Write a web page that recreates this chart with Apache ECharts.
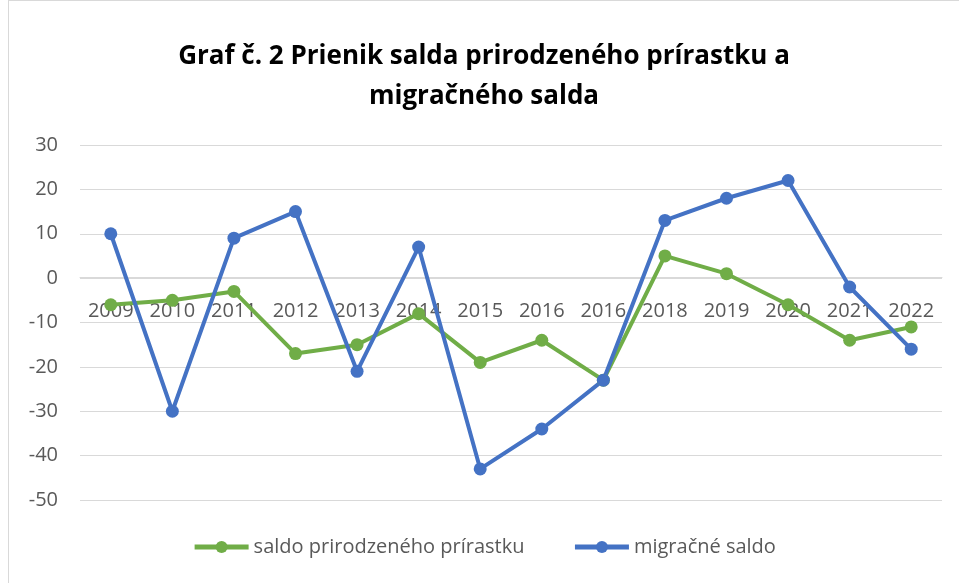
<!DOCTYPE html>
<html>
<head>
<meta charset="utf-8">
<script src="https://cdn.jsdelivr.net/npm/echarts@6/dist/echarts.min.js"></script>
<style>
  html, body { margin: 0; padding: 0; background: #fff; }
  #chart { position: absolute; left: 8px; top: 0; width: 951px; height: 583px;
           border-left: 1px solid #d9d9d9; border-top: 1px solid #d9d9d9; box-sizing: border-box; }
</style>
</head>
<body>
<div id="chart"></div>
<script>
const years = ["2009", "2010", "2011", "2012", "2013", "2014", "2015", "2016", "2016", "2018", "2019", "2020", "2021", "2022"];
const prirodzenyPrirastok = [-6, -5, -3, -17, -15, -8, -19, -14, -23, 5, 1, -6, -14, -11];
const migracneSaldo = [10, -30, 9, 15, -21, 7, -43, -34, -23, 13, 18, 22, -2, -16];

const font = "Open Sans";
const chart = echarts.init(document.getElementById("chart"));
chart.setOption({
  animation: false,
  color: ["#70AD47", "#4472C4"],
  title: {
    text: "Graf č. 2 Prienik salda prirodzeného prírastku a\nmigračného salda",
    left: "center",
    top: 31,
    textStyle: {
      fontFamily: font,
      fontWeight: "bold",
      fontSize: 26,
      lineHeight: 40,
      color: "#000"
    }
  },
  legend: {
    bottom: 21,
    left: "center",
    itemWidth: 54,
    itemHeight: 15,
    itemGap: 48,
    itemStyle: { borderWidth: 0 },
    lineStyle: { width: 5 },
    textStyle: { fontFamily: font, fontSize: 20, color: "#595959" },
    data: ["saldo prirodzeného prírastku", "migračné saldo"]
  },
  // plot area: top 144 .. bottom 500, zero line at 277.5
  grid: { left: 71, right: 17, top: 144, bottom: 83 },
  xAxis: {
    type: "category",
    data: years,
    offset: -222.5,
    axisLine: { onZero: false, lineStyle: { color: "#d9d9d9" } },
    axisTick: { show: false },
    axisLabel: { color: "#595959", fontSize: 20, fontFamily: font, margin: 24, interval: 0 }
  },
  yAxis: {
    type: "value",
    min: -50,
    max: 30,
    interval: 10,
    axisLine: { show: false },
    axisTick: { show: false },
    splitLine: { lineStyle: { color: "#d9d9d9", width: 1 } },
    axisLabel: { color: "#595959", fontSize: 20, fontFamily: font, margin: 22 }
  },
  series: [
    {
      name: "saldo prirodzeného prírastku",
      type: "line",
      data: prirodzenyPrirastok,
      symbol: "circle",
      symbolSize: 13,
      lineStyle: { width: 4 }
    },
    {
      name: "migračné saldo",
      type: "line",
      data: migracneSaldo,
      symbol: "circle",
      symbolSize: 13,
      lineStyle: { width: 4 }
    }
  ]
});
</script>
</body>
</html>
